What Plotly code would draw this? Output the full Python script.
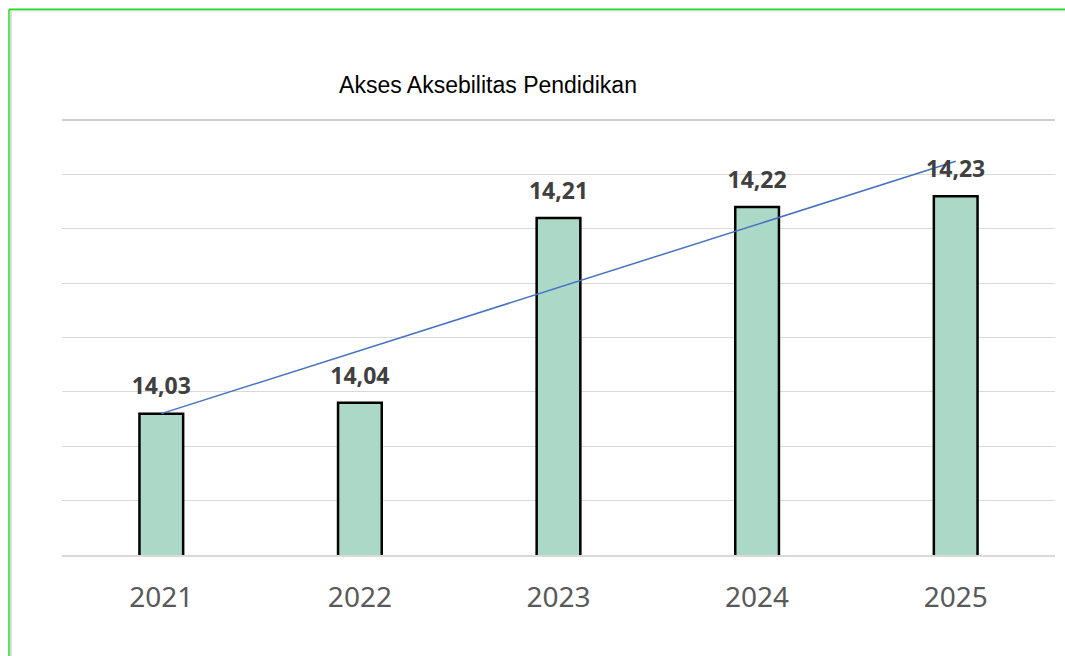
import numpy as np
import plotly.graph_objects as go

years = ["2021", "2022", "2023", "2024", "2025"]
values = [14.03, 14.04, 14.21, 14.22, 14.23]
title_text = "Akses Aksebilitas Pendidikan"

# Linear trendline fitted to the values
idx = np.arange(1, len(values) + 1)
slope, intercept = np.polyfit(idx, values, 1)
trend = [float(intercept + slope * i) for i in idx]
labels = [f"{v:.2f}".replace(".", ",") for v in values]

W, H = 1065, 656
L, R, T, B = 62, 10, 120, 101
pw, ph = W - L - R, H - T - B

def px_x(p):
    return (p - L) / pw

def px_y(p):
    return (H - B - p) / ph

fig = go.Figure()
fig.add_trace(go.Bar(
    x=years, y=values,
    marker=dict(color="#acd8c8", line=dict(color="#000000", width=2.5)),
    showlegend=False, hoverinfo="skip",
))
fig.add_trace(go.Scatter(
    x=years, y=trend, mode="lines",
    line=dict(color="#4472c4", width=1.5),
    showlegend=False, hoverinfo="skip",
))
fig.add_trace(go.Scatter(
    x=years, y=values, mode="markers+text", text=labels,
    textposition="top center",
    marker=dict(size=20, opacity=0),
    textfont=dict(family="Noto Sans", size=23, color="#404040", weight="bold"),
    showlegend=False, hoverinfo="skip", cliponaxis=False,
))

shapes = [
    dict(type="line", xref="paper", yref="paper",
         x0=px_x(9), x1=px_x(1065), y0=px_y(9.5), y1=px_y(9.5),
         line=dict(color="#22dd22", width=2)),
    dict(type="line", xref="paper", yref="paper",
         x0=px_x(9), x1=px_x(9), y0=px_y(9.5), y1=px_y(656),
         line=dict(color="#22dd22", width=1.5)),
    dict(type="line", xref="paper", yref="paper",
         x0=px_x(11), x1=px_x(11), y0=px_y(11), y1=px_y(656),
         line=dict(color="#d0d0d0", width=1.5)),
    dict(type="line", xref="paper", yref="paper",
         x0=px_x(11), x1=px_x(1065), y0=px_y(11), y1=px_y(11),
         line=dict(color="#e0e0e0", width=1)),
    dict(type="line", xref="paper", yref="paper",
         x0=0, x1=1, y0=1, y1=1,
         line=dict(color="#bfbfbf", width=1.5)),
]

fig.update_layout(
    width=W, height=H,
    margin=dict(l=L, r=R, t=T, b=B),
    paper_bgcolor="#ffffff", plot_bgcolor="#ffffff",
    bargap=0.78,
    title=dict(text=title_text, x=488 / W, xanchor="center", xref="container",
               y=1 - 85 / H, yanchor="middle", yref="container",
               font=dict(family="Liberation Sans", size=23, color="#000000")),
    xaxis=dict(type="category", categoryorder="array", categoryarray=years,
               showgrid=False, zeroline=False,
               showline=True, linecolor="#d9d9d9", linewidth=1.5,
               ticks="", ticklabelstandoff=17,
               tickfont=dict(family="Noto Sans", size=28, color="#595959")),
    yaxis=dict(range=[13.9, 14.3], dtick=0.05, tick0=13.9, showticklabels=False,
               showgrid=True, gridcolor="#d9d9d9", gridwidth=1.2, zeroline=False,
               ticks=""),
    shapes=shapes,
)

fig.write_html("out.html", config={"displayModeBar": False},
               post_script="document.body.style.margin='0px';")
